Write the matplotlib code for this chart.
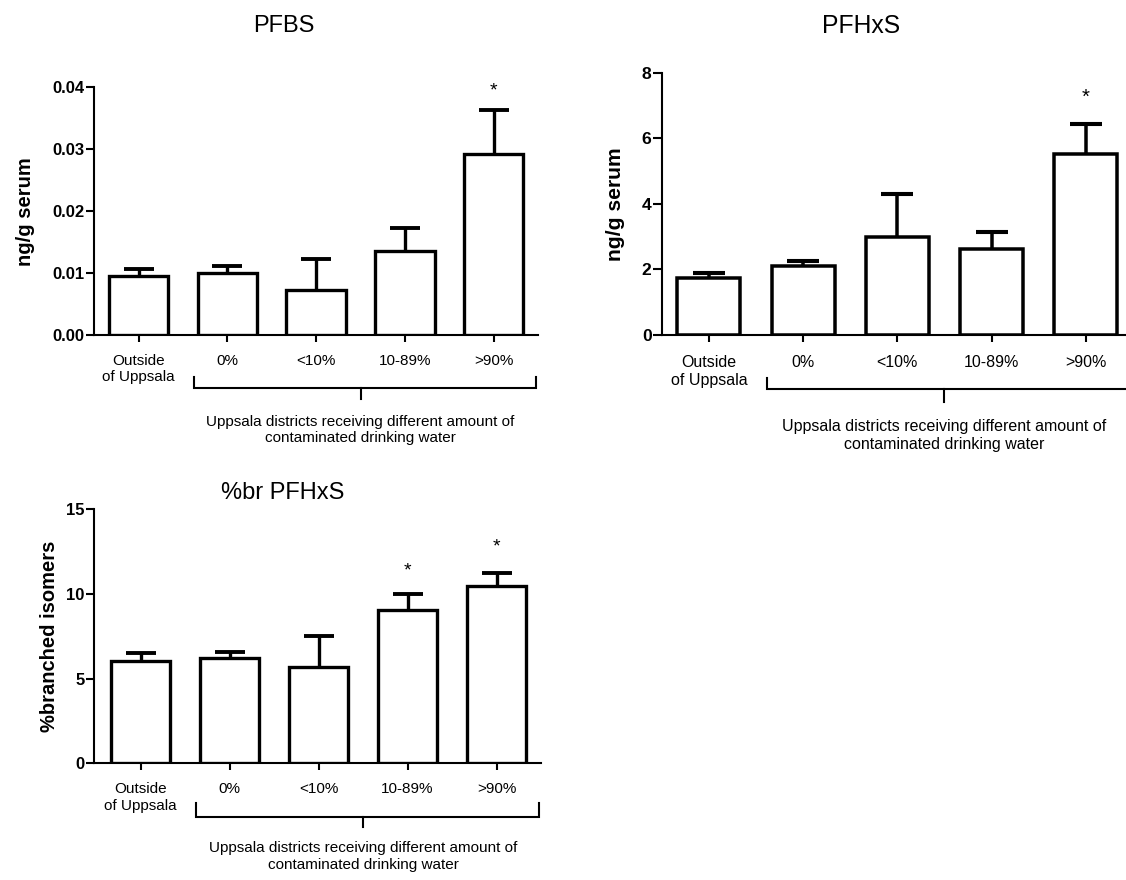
import numpy as np
import matplotlib
matplotlib.use('Agg')
import matplotlib.pyplot as plt
import matplotlib.transforms as mtransforms

plt.rcParams['font.family'] = ['Liberation Sans', 'DejaVu Sans']

groups = ['Outside\nof Uppsala', '0%', '<10%', '10-89%', '>90%']
bracket_text = 'Uppsala districts receiving different amount of\ncontaminated drinking water'

# PFBS, ng/g serum
pfbs_mean = [0.0095, 0.0100, 0.0073, 0.0135, 0.0292]
pfbs_upper = [0.0106, 0.0111, 0.0122, 0.0173, 0.0364]
pfbs_star_idx = [4]
pfbs_star_y = [0.0404]

# PFHxS, ng/g serum
pfhxs_mean = [1.75, 2.10, 3.00, 2.63, 5.53]
pfhxs_upper = [1.90, 2.27, 4.30, 3.14, 6.44]
pfhxs_star_idx = [4]
pfhxs_star_y = [7.45]

# %br PFHxS, % branched isomers
br_mean = [6.04, 6.20, 5.71, 9.06, 10.47]
br_upper = [6.50, 6.59, 7.52, 9.97, 11.24]
br_star_idx = [3, 4]
br_star_y = [11.77, 13.19]

W, H = 1126, 880
fig = plt.figure(figsize=(W / 100, H / 100), dpi=100)


def px_axes(left, top, right, bottom):
    return fig.add_axes([left / W, 1 - bottom / H, (right - left) / W, (bottom - top) / H])


def panel(ax, mean, upper, star_idx, star_y, yticks, yfmt, ylabel, ylabel_x,
          xlim, title, title_xy, box_h, off, scale=1.0):
    x = np.arange(len(groups))
    err = np.array(upper) - np.array(mean)
    lw = 2.4 * scale
    ax.bar(x, mean, width=0.67, color='white', edgecolor='black', linewidth=lw, zorder=3)
    eb = ax.errorbar(x, mean, yerr=[np.zeros(len(x)), err], fmt='none', ecolor='black',
                     elinewidth=lw, capsize=11 * scale, capthick=2.8 * scale, zorder=2)
    # only the upper cap is drawn in the original
    eb[1][0].set_visible(False)
    for i, ys in zip(star_idx, star_y):
        ax.annotate('*', xy=(x[i], ys), xytext=(0, -8 * scale), textcoords='offset points',
                    ha='center', va='baseline', fontsize=14 * scale, annotation_clip=False)
    ax.set_xlim(*xlim)
    ax.set_ylim(yticks[0], yticks[-1])
    ax.set_yticks(yticks)
    ax.set_yticklabels([yfmt.format(v) for v in yticks], fontweight='bold', fontsize=12 * scale)
    ax.set_xticks(x)
    ax.set_xticklabels(groups, fontsize=11 * scale, linespacing=1.25)
    ax.tick_params(axis='x', length=5 * scale, width=1.5, pad=8.5 * scale)
    ax.tick_params(axis='y', length=6 * scale, width=1.5, pad=1)
    for s in ['top', 'right']:
        ax.spines[s].set_visible(False)
    for s in ['left', 'bottom']:
        ax.spines[s].set_linewidth(1.5)
    ax.set_ylabel(ylabel, fontweight='bold', fontsize=14.5 * scale)
    ax.yaxis.set_label_coords(ylabel_x, 0.5)

    # bracket under the Uppsala groups
    trans = mtransforms.blended_transform_factory(ax.transData, ax.transAxes)
    hy = -off[0] / box_h
    ty = -off[1] / box_h
    by = -off[2] / box_h
    xl, xr, xc = 0.62, 4.48, 2.5
    ax.plot([xl, xl, xr, xr], [ty, hy, hy, ty], color='black', lw=1.5, transform=trans,
            clip_on=False, solid_joinstyle='miter')
    ax.plot([xc, xc], [hy, by], color='black', lw=1.5, transform=trans, clip_on=False)
    ax.text(xc, -off[3] / box_h, bracket_text, transform=trans, ha='center', va='center',
            fontsize=11 * scale, linespacing=1.25)

    fig.text(title_xy[0] / W, 1 - title_xy[1] / H, title, ha='center', va='center',
             fontsize=17 * scale)


ax1 = px_axes(94.3, 87.3, 538, 335)
panel(ax1, pfbs_mean, pfbs_upper, pfbs_star_idx, pfbs_star_y,
      [0, 0.01, 0.02, 0.03, 0.04], '{:.2f}', 'ng/g serum', -0.134,
      (-0.5, 4.5), 'PFBS', (283.6, 26), 247.7, (53, 42, 64, 95))

ax2 = px_axes(661.7, 72.7, 1133, 335)
panel(ax2, pfhxs_mean, pfhxs_upper, pfhxs_star_idx, pfhxs_star_y,
      [0, 2, 4, 6, 8], '{:d}', 'ng/g serum', -0.078,
      (-0.5, 4.5), 'PFHxS', (861.5, 26), 262.3, (54, 43, 67, 101), scale=1.05)

ax3 = px_axes(94.3, 509.3, 541, 763.3)
panel(ax3, br_mean, br_upper, br_star_idx, br_star_y,
      [0, 5, 10, 15], '{:d}', '%branched isomers', -0.079,
      (-0.52, 4.5), '%br PFHxS', (283, 492.5), 254, (54, 40, 64, 93))

fig.savefig('out.png', dpi=100)
